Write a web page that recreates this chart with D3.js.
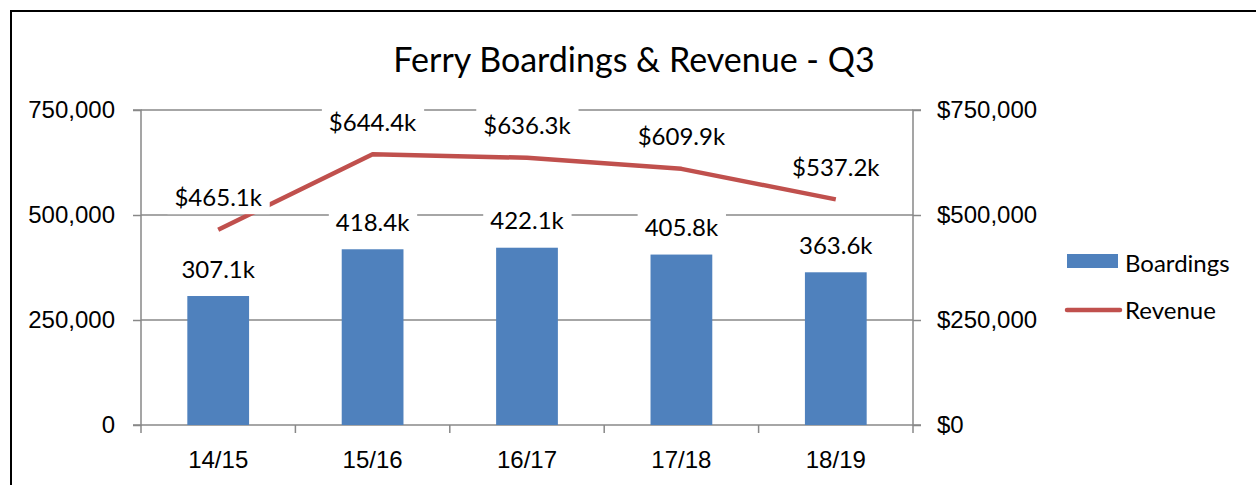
<!DOCTYPE html>
<html lang="en">
<head>
<meta charset="UTF-8">
<title>Ferry Boardings & Revenue - Q3</title>
<style>
    body { margin: 0; background: #fff; }
    svg { display: block; font-family: "Lato", "Liberation Sans", sans-serif; }
    .axis path, .axis line { stroke: #888; stroke-width: 1.5; }
    .axis text { fill: #000; font-size: 24px; }
</style>
</head>
<body>
<div id="chart"></div>
<script src="https://cdnjs.cloudflare.com/ajax/libs/d3/7.8.5/d3.min.js"></script>
<script>
    const years = ["14/15", "15/16", "16/17", "17/18", "18/19"];
    const boardings = [307100, 418400, 422100, 405800, 363600];
    const revenue = [465100, 644400, 636300, 609900, 537200];
    const leftTicks = [0, 250000, 500000, 750000];
    const rightTicks = [0, 250000, 500000, 750000];

    const width = 1256, height = 485;
    const plot = { left: 141, right: 913, top: 110, bottom: 425 };

    const svg = d3.select("#chart").append("svg")
        .attr("width", width)
        .attr("height", height);

    // outer frame, runs off the right and bottom edge like the original
    svg.append("rect")
        .attr("x", 11).attr("y", 11)
        .attr("width", 1300).attr("height", 600)
        .attr("fill", "#fff")
        .attr("stroke", "#000")
        .attr("stroke-width", 2);

    const x = d3.scaleBand().domain(years).range([plot.left, plot.right]).paddingInner(0.6).paddingOuter(0.3);
    const xOuter = d3.scaleBand().domain(years).range([plot.left, plot.right]);
    const yL = d3.scaleLinear().domain([0, 750000]).range([plot.bottom, plot.top]);
    const yR = d3.scaleLinear().domain([0, 750000]).range([plot.bottom, plot.top]);

    // grid lines
    svg.append("g")
        .selectAll("line")
        .data(leftTicks.slice(1))
        .join("line")
        .attr("x1", plot.left).attr("x2", plot.right)
        .attr("y1", d => yL(d)).attr("y2", d => yL(d))
        .attr("stroke", "#888").attr("stroke-width", 1.5);

    // left axis
    const gl = svg.append("g").attr("class", "axis")
        .attr("transform", `translate(${plot.left},0)`)
        .call(d3.axisLeft(yL).tickValues(leftTicks).tickSize(8).tickPadding(18).tickFormat(d3.format(",")));
    gl.select(".domain").attr("d", `M-8,${plot.top}H0V${plot.bottom}H-8`);

    // right axis
    const gr = svg.append("g").attr("class", "axis")
        .attr("transform", `translate(${plot.right},0)`)
        .call(d3.axisRight(yR).tickValues(rightTicks).tickSize(8).tickPadding(16).tickFormat(d => "$" + d3.format(",")(d)));
    gr.select(".domain").attr("d", `M8,${plot.top}H0V${plot.bottom}H8`);

    // bottom axis with ticks at category boundaries
    const gb = svg.append("g").attr("class", "axis")
        .attr("transform", `translate(0,${plot.bottom})`)
        .call(d3.axisBottom(xOuter).tickSize(0).tickPadding(26));
    gb.select(".domain").attr("d", `M${plot.left},0H${plot.right}`);
    gb.selectAll(".bound")
        .data(d3.range(years.length + 1))
        .join("line")
        .attr("class", "bound")
        .attr("x1", i => plot.left + i * xOuter.step())
        .attr("x2", i => plot.left + i * xOuter.step())
        .attr("y1", 0).attr("y2", 8);

    // bars
    svg.append("g")
        .selectAll("rect")
        .data(boardings)
        .join("rect")
        .attr("x", (d, i) => x(years[i]))
        .attr("width", x.bandwidth())
        .attr("y", d => yL(d))
        .attr("height", d => yL(0) - yL(d))
        .attr("fill", "#4f81bd");

    // revenue line
    const line = d3.line()
        .x((d, i) => xOuter(years[i]) + xOuter.bandwidth() / 2)
        .y(d => yR(d));
    svg.append("path")
        .datum(revenue)
        .attr("d", line)
        .attr("fill", "none")
        .attr("stroke", "#c0504d")
        .attr("stroke-width", 4.5)
        .attr("stroke-linejoin", "round");

    function label(txt, cx, cy) {
        const g = svg.append("g");
        const t = g.append("text")
            .attr("x", cx).attr("y", cy)
            .attr("text-anchor", "middle")
            .attr("dominant-baseline", "central")
            .attr("font-size", 24)
            .text(txt);
        const b = t.node().getBBox();
        g.insert("rect", "text")
            .attr("x", b.x - 7).attr("y", b.y - 3)
            .attr("width", b.width + 14).attr("height", b.height + 6)
            .attr("fill", "#fff");
    }

    boardings.forEach((d, i) => {
        label((d / 1000).toFixed(1) + "k", xOuter(years[i]) + xOuter.bandwidth() / 2, yL(d) - 28);
    });
    revenue.forEach((d, i) => {
        label("$" + (d / 1000).toFixed(1) + "k", xOuter(years[i]) + xOuter.bandwidth() / 2, yR(d) - 33);
    });

    // title
    svg.append("text")
        .attr("x", 634).attr("y", 58)
        .attr("text-anchor", "middle")
        .attr("dominant-baseline", "central")
        .attr("font-size", 34)
        .text("Ferry Boardings & Revenue - Q3");

    // legend
    const lg = svg.append("g");
    lg.append("rect").attr("x", 1067).attr("y", 254).attr("width", 51).attr("height", 14).attr("fill", "#4f81bd");
    lg.append("text").attr("x", 1125).attr("y", 262).attr("dominant-baseline", "central").attr("font-size", 24).text("Boardings");
    lg.append("line").attr("x1", 1067).attr("x2", 1120).attr("y1", 310).attr("y2", 310)
        .attr("stroke", "#c0504d").attr("stroke-width", 4.5).attr("stroke-linecap", "round");
    lg.append("text").attr("x", 1125).attr("y", 309).attr("dominant-baseline", "central").attr("font-size", 24).text("Revenue");
</script>
</body>
</html>
